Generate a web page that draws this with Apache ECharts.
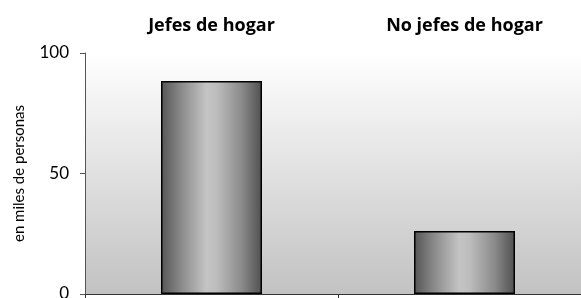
<!DOCTYPE html>
<html>
<head>
<meta charset="utf-8">
<script src="https://cdn.jsdelivr.net/npm/echarts@6/dist/echarts.min.js"></script>
<style>
html, body { margin: 0; padding: 0; background: #fff; }
#chart { width: 581px; height: 298px; }
</style>
</head>
<body>
<div id="chart"></div>
<script>
// datos
let categorias = ['Jefes de hogar', 'No jefes de hogar']
let valores = [88.4, 26.1]
let ejeY = { min: 0, max: 100, interval: 50 }

let barGradient = new echarts.graphic.LinearGradient(0, 0, 1, 0, [
    { offset: 0, color: '#555555' },
    { offset: 0.2, color: '#8a8a8a' },
    { offset: 0.45, color: '#c4c4c4' },
    { offset: 0.55, color: '#bdbdbd' },
    { offset: 0.8, color: '#8a8a8a' },
    { offset: 1, color: '#505050' }
])

let dom = echarts.init(document.getElementById('chart'), null, { renderer: 'canvas' })
let option = {
    animation: false,
    grid: {
        left: 85,
        width: 506,
        top: 53,
        bottom: 4,
        outerBoundsMode: 'none',
        containLabel: false,
        show: true,
        borderWidth: 0,
        backgroundColor: new echarts.graphic.LinearGradient(0, 0, 0, 1, [
            { offset: 0, color: '#ffffff' },
            { offset: 1, color: '#c2c2c2' }
        ])
    },
    xAxis: [
        {
            type: 'category',
            position: 'top',
            data: categorias,
            axisLine: { show: false },
            axisTick: { show: false },
            axisLabel: {
                margin: 18,
                fontFamily: 'Open Sans',
                fontWeight: 'bold',
                fontSize: 18,
                color: '#000'
            }
        },
        {
            type: 'category',
            position: 'bottom',
            data: categorias,
            axisLine: { show: true, lineStyle: { color: '#333', width: 1 } },
            axisTick: { show: true, length: 4, lineStyle: { color: '#333' } },
            axisLabel: { show: false }
        }
    ],
    yAxis: {
        type: 'value',
        min: ejeY.min,
        max: ejeY.max,
        interval: ejeY.interval,
        name: 'en miles de personas',
        nameLocation: 'middle',
        nameRotate: 90,
        nameGap: 58,
        nameTextStyle: { fontFamily: 'Lato', fontSize: 15, color: '#000' },
        splitLine: { show: false },
        axisLine: { show: true, lineStyle: { color: '#555', width: 1 } },
        axisTick: { show: true, length: 5, lineStyle: { color: '#555' } },
        axisLabel: { margin: 16, fontFamily: 'Lato', fontSize: 17, color: '#000' }
    },
    series: [{
        type: 'bar',
        xAxisIndex: 0,
        data: valores,
        barWidth: 101,
        itemStyle: {
            color: barGradient,
            borderColor: '#000',
            borderWidth: 1.5
        }
    }]
}
dom.setOption(option, true)
</script>
</body>
</html>
